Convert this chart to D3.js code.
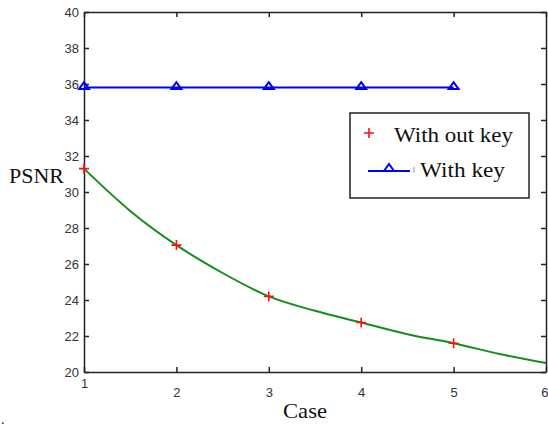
<!DOCTYPE html>
<html>
<head>
<meta charset="utf-8">
<script src="https://cdn.jsdelivr.net/npm/d3@7"></script>
<style>
  html, body { margin: 0; padding: 0; background: #fff; }
  svg { display: block; }
  .tick text { font-family: "Liberation Sans", Arial, sans-serif; font-size: 13px; fill: #333; }
  .lbl { font-family: "Liberation Serif", "Times New Roman", serif; fill: #111; }
</style>
</head>
<body>
<svg width="548" height="426"></svg>
<script>
(function () {

  // markers
  const cases = [1, 2, 3, 4, 5];
  const psnrWithoutKey = [31.3, 27.05, 24.2, 22.75, 21.6];
  const psnrWithKey = [35.8, 35.8, 35.8, 35.8, 35.8];

  // green curve, every half case
  const curveCases = [1, 1.5, 2, 2.5, 3, 3.5, 4, 4.5, 5, 5.5, 6];
  const curvePsnr = [31.3, 28.95, 27.05, 25.5, 24.2, 23.4, 22.75, 22.1, 21.6, 21.0, 20.5];

  const xTicks = [1, 2, 3, 4, 5, 6];
  const yTicks = [20, 22, 24, 26, 28, 30, 32, 34, 36, 38, 40];

  const svg = d3.select('svg');
  const x = d3.scaleLinear().domain([1, 6]).range([84, 546]);
  const y = d3.scaleLinear().domain([20, 40]).range([372, 12]);

  // frame + ticks (all inward)
  svg.append('g')
    .attr('transform', `translate(0,${y(20)})`)
    .call(d3.axisBottom(x).tickValues(xTicks).tickSize(-5).tickSizeOuter(0).tickPadding(16).tickFormat(d3.format('d')))
    .call(g => g.selectAll('.tick').filter(d => d === 1).select('text').attr('y', 7))
    .call(g => g.selectAll('.tick').filter(d => d === 6).select('text').attr('text-anchor', 'end').attr('x', 2));

  svg.append('g')
    .attr('transform', `translate(0,${y(40)})`)
    .call(d3.axisTop(x).tickValues(xTicks).tickSize(-5).tickSizeOuter(0).tickFormat(''));

  svg.append('g')
    .attr('transform', `translate(${x(1)},0)`)
    .call(d3.axisLeft(y).tickValues(yTicks).tickSize(-5).tickSizeOuter(0).tickPadding(5).tickFormat(d3.format('d')));

  svg.append('g')
    .attr('transform', `translate(${x(6)},0)`)
    .call(d3.axisRight(y).tickValues(yTicks).tickSize(-5).tickSizeOuter(0).tickFormat(''));

  svg.selectAll('.domain, .tick line').attr('stroke', '#222').attr('stroke-width', 1.5);

  const line = d3.line().x(d => x(d[0])).y(d => y(d[1]));

  // green curve
  svg.append('path')
    .datum(d3.zip(curveCases, curvePsnr))
    .attr('fill', 'none')
    .attr('stroke', '#10901a')
    .attr('stroke-width', 2)
    .attr('d', line.curve(d3.curveMonotoneX));

  // with key
  svg.append('path')
    .datum(d3.zip(cases, psnrWithKey))
    .attr('fill', 'none')
    .attr('stroke', '#0000ff')
    .attr('stroke-width', 2)
    .attr('d', d3.line().x(d => x(d[0])).y(d => y(d[1])));

  const tri = (cx, cy) => `M${cx - 5},${cy + 1.5}L${cx + 5},${cy + 1.5}L${cx},${cy - 5.5}Z`;

  svg.append('g').selectAll('path')
    .data(d3.zip(cases, psnrWithKey))
    .join('path')
    .attr('d', d => tri(x(d[0]), y(d[1])))
    .attr('fill', 'none')
    .attr('stroke', '#0000ff')
    .attr('stroke-width', 2);

  // without key
  const plus = (cx, cy) => `M${cx - 5},${cy}H${cx + 5}M${cx},${cy - 5}V${cy + 5}`;

  svg.append('g').selectAll('path')
    .data(d3.zip(cases, psnrWithoutKey))
    .join('path')
    .attr('d', d => plus(x(d[0]), y(d[1])))
    .attr('stroke', '#ff1010')
    .attr('stroke-width', 1.6);

  // legend
  const lg = svg.append('g');
  lg.append('rect')
    .attr('x', 350).attr('y', 113).attr('width', 179).attr('height', 85)
    .attr('fill', '#fff').attr('stroke', '#222').attr('stroke-width', 1.5);
  lg.append('path').attr('d', plus(369, 133)).attr('stroke', '#ff1010').attr('stroke-width', 1.6);
  lg.append('text').attr('class', 'lbl').attr('x', 394).attr('y', 142)
    .attr('font-size', 22).attr('textLength', 119).attr('lengthAdjust', 'spacingAndGlyphs').text('With out key');
  lg.append('line').attr('x1', 368).attr('x2', 410).attr('y1', 171).attr('y2', 171)
    .attr('stroke', '#0000ff').attr('stroke-width', 2);
  lg.append('path').attr('d', tri(389, 169.5)).attr('fill', 'none').attr('stroke', '#0000ff').attr('stroke-width', 2);
  lg.append('line').attr('x1', 414).attr('x2', 414).attr('y1', 167).attr('y2', 173)
    .attr('stroke', '#999').attr('stroke-width', 1);
  lg.append('text').attr('class', 'lbl').attr('x', 420).attr('y', 177)
    .attr('font-size', 22).attr('textLength', 85).attr('lengthAdjust', 'spacingAndGlyphs').text('With key');

  // axis labels
  svg.append('text').attr('class', 'lbl').attr('x', 9).attr('y', 183)
    .attr('font-size', 22).text('PSNR');
  svg.append('text').attr('class', 'lbl').attr('x', 283).attr('y', 418)
    .attr('font-size', 22).attr('textLength', 44).attr('lengthAdjust', 'spacingAndGlyphs').text('Case');
  svg.append('text').attr('class', 'lbl').attr('x', 1).attr('y', 424)
    .attr('font-size', 14).text('.');

})();
</script>
</body>
</html>
